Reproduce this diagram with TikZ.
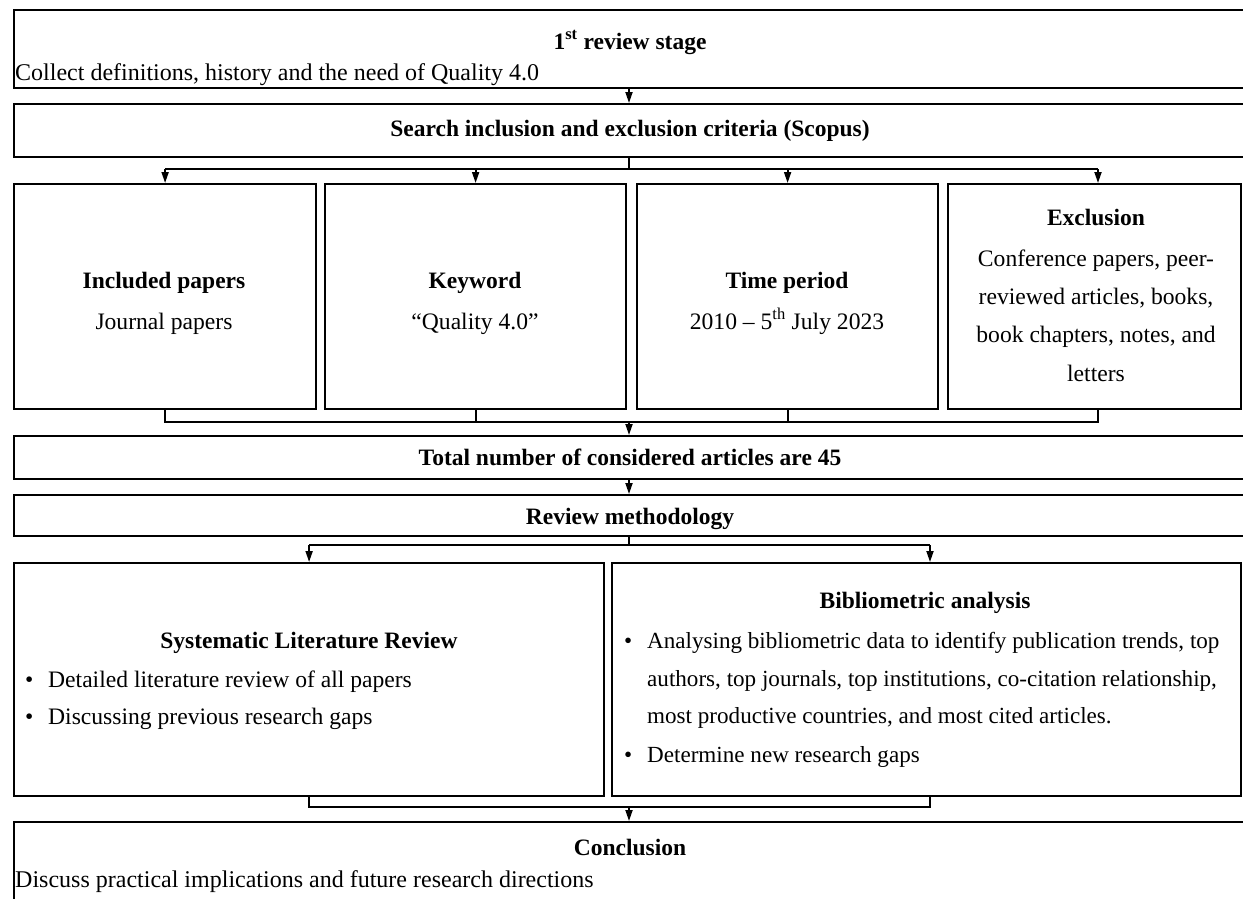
\documentclass[tikz,border=0pt]{standalone}
\usepackage{fontspec}
\setmainfont{Liberation Serif}
\usetikzlibrary{arrows.meta}
\begin{document}
\begin{tikzpicture}[x=1pt,y=-1pt,
  box/.style={draw,line width=2.2pt,inner sep=0pt,anchor=north west},
  conn/.style={line width=1.8pt},
  arr/.style={line width=1.8pt,-{Triangle[length=11pt,width=7pt]}},
  txt/.style={inner sep=0pt,font=\fontsize{23.6}{28}\selectfont},
  smalltxt/.style={inner sep=0pt,anchor=base west,font=\fontsize{23.1}{28}\selectfont},
  titletext/.style={txt,anchor=base,font=\fontsize{23.5}{28}\selectfont\bfseries},
  centertext/.style={txt,anchor=base},
  lefttext/.style={txt,anchor=base west},
  widetext/.style={inner sep=0pt,anchor=base west,font=\fontsize{24}{28}\selectfont}]
\newcommand{\bul}{\makebox[23pt][l]{•}}
\useasboundingbox (0,0) rectangle (1243,898);
\clip (0,0) rectangle (1243,898);
% boxes
\node[box,minimum width=1233pt,minimum height=78pt] (b1) at (13,9) {};
\node[box,minimum width=1233pt,minimum height=53pt] (b2) at (13,103) {};
\node[box,minimum width=302pt,minimum height=225pt] (p1) at (13,183) {};
\node[box,minimum width=301pt,minimum height=225pt] (p2) at (324,183) {};
\node[box,minimum width=301pt,minimum height=225pt] (p3) at (636,183) {};
\node[box,minimum width=293pt,minimum height=225pt] (p4) at (947,183) {};
\node[box,minimum width=1233pt,minimum height=43pt] (b3) at (13,435) {};
\node[box,minimum width=1233pt,minimum height=41pt] (b4) at (13,494) {};
\node[box,minimum width=590pt,minimum height=233pt] (s1) at (13,562) {};
\node[box,minimum width=629pt,minimum height=233pt] (s2) at (611,562) {};
\node[box,minimum width=1233pt,minimum height=100pt] (b5) at (13,821) {};
% texts
\node[titletext] (t1) at (630,49) {1\textsuperscript{st} review stage};
\node[widetext] (t1a) at (15,80) {Collect definitions, history and the need of Quality 4.0};
\node[titletext] (t2) at (630,136) {Search inclusion and exclusion criteria (Scopus)};
\node[titletext] (tp1) at (164,288) {Included papers};
\node[centertext] (tp1a) at (164,329) {Journal papers};
\node[titletext] (tp2) at (475,288) {Keyword};
\node[centertext] (tp2a) at (475,329) {“Quality 4.0”};
\node[titletext] (tp3) at (787,288) {Time period};
\node[centertext] (tp3a) at (787,329) {2010 – 5\textsuperscript{th} July 2023};
\node[titletext] (tp4) at (1096,225) {Exclusion};
\node[centertext] (tp4a) at (1096,266) {Conference papers, peer-};
\node[centertext] (tp4b) at (1096,304) {reviewed articles, books,};
\node[centertext] (tp4c) at (1096,342) {book chapters, notes, and};
\node[centertext] (tp4d) at (1096,381) {letters};
\node[titletext] (t3) at (630,465) {Total number of considered articles are 45};
\node[titletext] (t4) at (630,524) {Review methodology};
\node[titletext] (ts1) at (309,648) {Systematic Literature Review};
\node[lefttext] (ts1a) at (25,687) {\bul Detailed literature review of all papers};
\node[lefttext] (ts1b) at (25,724) {\bul Discussing previous research gaps};
\node[titletext] (ts2) at (925,608) {Bibliometric analysis};
\node[smalltxt] (ts2a) at (624,648) {\bul Analysing bibliometric data to identify publication trends, top};
\node[smalltxt] (ts2b) at (647,686) {authors, top journals, top institutions, co-citation relationship,};
\node[smalltxt] (ts2c) at (647,723) {most productive countries, and most cited articles.};
\node[smalltxt] (ts2d) at (624,762) {\bul Determine new research gaps};
\node[titletext] (t5) at (630,855) {Conclusion};
\node[widetext] (t5a) at (15,887) {Discuss practical implications and future research directions};
% connector points
\coordinate (sp1) at (629,169);
\coordinate (m1) at (629,422);
\coordinate (sp2) at (629,545);
\coordinate (m2) at (629,807);
\coordinate (p4top) at (1098,183);
\coordinate (p4bot) at (1098,408);
\coordinate (s2top) at (930,562);
\coordinate (s2bot) at (930,795);
% connectors
\draw[arr] (b1.south -| sp1) -- (b2.north -| sp1);
\draw[conn] (b2.south -| sp1) -- (sp1);
\draw[conn] (p1.north |- sp1) -- (p4top |- sp1);
\draw[arr] (p1.north |- sp1) -- (p1.north);
\draw[arr] (p2.north |- sp1) -- (p2.north);
\draw[arr] (p3.north |- sp1) -- (p3.north);
\draw[arr] (p4top |- sp1) -- (p4top);
\draw[conn] (p1.south) |- (m1) -| (p4bot);
\draw[conn] (p2.south) -- (p2.south |- m1);
\draw[conn] (p3.south) -- (p3.south |- m1);
\draw[arr] (m1) -- (b3.north -| m1);
\draw[arr] (b3.south -| m1) -- (b4.north -| m1);
\draw[conn] (b4.south -| sp2) -- (sp2);
\draw[conn] (s1.north |- sp2) -- (s2top |- sp2);
\draw[arr] (s1.north |- sp2) -- (s1.north);
\draw[arr] (s2top |- sp2) -- (s2top);
\draw[conn] (s1.south) |- (m2) -| (s2bot);
\draw[arr] (m2) -- (b5.north -| m2);
\end{tikzpicture}
\end{document}
